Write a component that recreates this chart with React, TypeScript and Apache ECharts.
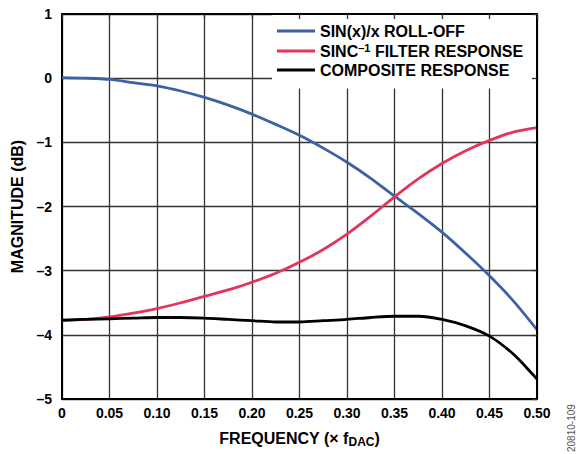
import React, { useEffect, useRef } from "react";
import * as echarts from "echarts";

const freq = [0, 0.025, 0.05, 0.075, 0.1, 0.125, 0.15, 0.175, 0.2, 0.225, 0.25, 0.275, 0.3, 0.325, 0.35, 0.375, 0.4, 0.425, 0.45, 0.475, 0.5];
const sincRollOff = [0.01, 0.0, -0.02, -0.07, -0.12, -0.2, -0.3, -0.42, -0.56, -0.72, -0.89, -1.09, -1.31, -1.56, -1.84, -2.11, -2.4, -2.73, -3.08, -3.47, -3.92];
const sincInverse = [-3.78, -3.76, -3.72, -3.66, -3.59, -3.5, -3.4, -3.3, -3.18, -3.04, -2.87, -2.67, -2.43, -2.15, -1.85, -1.57, -1.33, -1.13, -0.97, -0.84, -0.77];
const composite = [-3.77, -3.76, -3.75, -3.74, -3.73, -3.73, -3.74, -3.76, -3.78, -3.8, -3.8, -3.78, -3.76, -3.73, -3.71, -3.71, -3.76, -3.86, -4.02, -4.3, -4.69];
const xTicks = ["0", "0.05", "0.10", "0.15", "0.20", "0.25", "0.30", "0.35", "0.40", "0.45", "0.50"];
const seriesNames = ["SIN(x)/x ROLL-OFF", "SINC{sup|–1} FILTER RESPONSE", "COMPOSITE RESPONSE"];
// legend box (data units) that hides the grid behind the legend
const legendBoxX = [0.221, 0.5];
const legendBoxY = [-0.16, 1];

const FONT = "'Liberation Sans', Arial, sans-serif";

export default function App() {
  const ref = useRef<HTMLDivElement>(null);
  useEffect(() => {
    if (!ref.current) return;
    const chart = echarts.init(ref.current, undefined, { renderer: "svg" });
    const mk = (vals: number[]) => freq.map((f, i) => [f, vals[i]]);
    const colors = ["#3d62a3", "#e3345b", "#000000"];
    const dataSets = [sincRollOff, sincInverse, composite];
    const series: any[] = seriesNames.map((name, i) => ({
      name,
      type: "line",
      data: mk(dataSets[i]),
      smooth: 0.3,
      showSymbol: false,
      symbol: "none",
      color: colors[i],
      lineStyle: { color: colors[i], width: 2.8 },
      z: 3 + (i === 2 ? 1 : 0),
    }));
    series[0].markArea = {
      silent: true,
      label: { show: false },
      itemStyle: { color: "#ffffff", opacity: 1 },
      data: [[{ coord: [legendBoxX[0], legendBoxY[1]] }, { coord: [legendBoxX[1], legendBoxY[0]] }]],
    };
    chart.setOption({
      animation: false,
      backgroundColor: "#ffffff",
      textStyle: { fontFamily: FONT },
      grid: { left: 62, right: 42, top: 14, bottom: 55, containLabel: false },
      xAxis: [
        {
          type: "value",
          min: 0,
          max: 0.5,
          interval: 0.05,
          position: "bottom",
          axisLine: { show: true, onZero: false, lineStyle: { color: "#000", width: 2 } },
          axisTick: { show: false },
          splitLine: { show: true, lineStyle: { color: "#333", width: 1.3 } },
          axisLabel: {
            color: "#000",
            fontWeight: "bold",
            fontSize: 14,
            fontFamily: FONT,
            margin: 7,
            formatter: (v: number) => xTicks[Math.round(v / 0.05)],
          },
          name: "{a|FREQUENCY (× f}{b|DAC}{a|)}",
          nameLocation: "middle",
          nameGap: 29,
          nameTextStyle: {
            rich: {
              a: { fontSize: 16, fontWeight: "bold", color: "#000", fontFamily: FONT },
              b: { fontSize: 12, fontWeight: "bold", color: "#000", fontFamily: FONT, padding: [8, 0, 0, 0] },
            },
          },
        },
        {
          type: "value",
          min: 0,
          max: 0.5,
          interval: 0.05,
          position: "top",
          z: 6,
          axisLine: { show: true, onZero: false, lineStyle: { color: "#000", width: 2 } },
          axisTick: { show: true, inside: true, length: 5, lineStyle: { color: "#333", width: 1.3 } },
          axisLabel: { show: false },
          splitLine: { show: false },
        },
      ],
      yAxis: [
        {
          type: "value",
          min: -5,
          max: 1,
          interval: 1,
          axisLine: { show: true, onZero: false, lineStyle: { color: "#000", width: 2 } },
          axisTick: { show: false },
          splitLine: { show: true, lineStyle: { color: "#333", width: 1.3 } },
          axisLabel: {
            color: "#000",
            fontWeight: "bold",
            fontSize: 14,
            fontFamily: FONT,
            margin: 10,
            formatter: (v: number) => (v < 0 ? "–" + Math.abs(v) : String(v)),
          },
          name: "MAGNITUDE (dB)",
          nameLocation: "middle",
          nameGap: 37,
          nameTextStyle: { fontSize: 16, fontWeight: "bold", color: "#000", fontFamily: FONT },
        },
        {
          type: "value",
          min: -5,
          max: 1,
          interval: 1,
          position: "right",
          z: 6,
          axisLine: { show: true, onZero: false, lineStyle: { color: "#000", width: 2 } },
          axisTick: { show: true, inside: true, length: 5, lineStyle: { color: "#333", width: 1.3 } },
          axisLabel: { show: false },
          splitLine: { show: false },
        },
      ],
      legend: {
        orient: "vertical",
        left: 277,
        top: 23,
        padding: 0,
        itemWidth: 38,
        itemHeight: 3,
        itemGap: 3,
        icon: "rect",
        z: 8,
        data: seriesNames,
        textStyle: {
          fontSize: 16,
          lineHeight: 16,
          fontWeight: "bold",
          color: "#000",
          fontFamily: FONT,
          rich: {
            sup: { fontSize: 11, fontWeight: "bold", color: "#000", fontFamily: FONT, padding: [0, 0, 7, 0] },
          },
        },
      },
      graphic: [
        {
          type: "text",
          x: 566,
          y: 452,
          rotation: Math.PI / 2,
          style: { text: "20810-109", fontSize: 10, fill: "#555", fontFamily: FONT, verticalAlign: "top" },
        },
      ],
      series,
    });
    return () => chart.dispose();
  }, []);
  return <div ref={ref} style={{ position: "absolute", left: 0, top: 0, width: 579, height: 454 }} />;
}
